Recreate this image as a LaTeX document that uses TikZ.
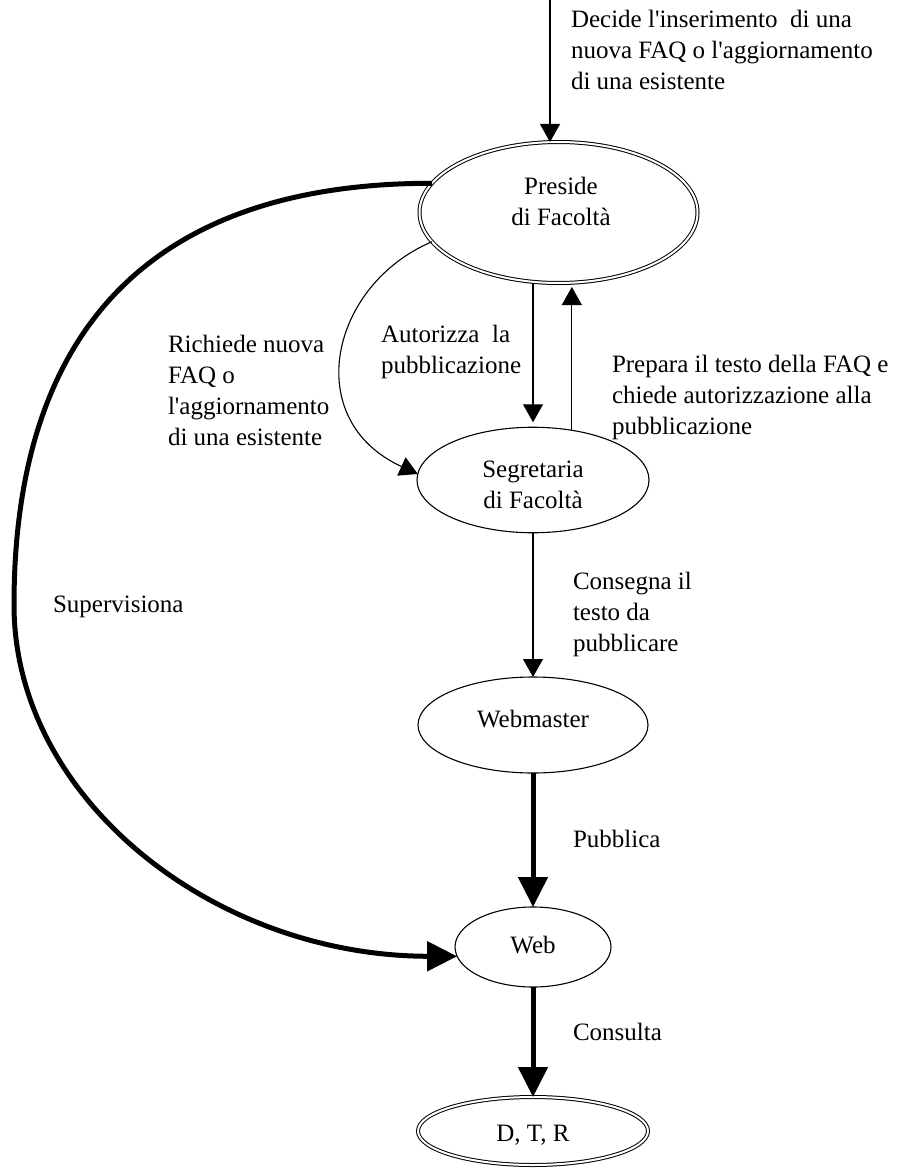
\documentclass[tikz,border=0pt]{standalone}
\usepackage{fontspec}
\setmainfont{Liberation Serif}
\usetikzlibrary{arrows.meta,shapes.geometric}

% left-aligned label lines, first baseline is the node's base
\newcommand\lines[1]{\begin{tabular}[t]{@{}l@{}}#1\end{tabular}}
% centred lines inside an ellipse
\newcommand\clines[1]{\begin{tabular}{@{}c@{}}#1\end{tabular}}
% extra room below (text sits higher) or above (text sits lower)
\newcommand\padbelow[2]{\raisebox{0pt}[\height][\dimexpr\depth+#1\relax]{#2}}
\newcommand\padabove[2]{\raisebox{0pt}[\dimexpr\height+#1\relax][\depth]{#2}}
\newcommand\ap{\textquotesingle}

\begin{document}
\begin{tikzpicture}[x=1pt,y=-1pt,
  every node/.style={font=\fontsize{25}{31}\selectfont, inner sep=0pt, outer sep=0pt},
  agent/.style={ellipse, draw, line width=1.1pt},
  actor/.style={ellipse, draw, line width=1pt, double, double distance=2pt},
  lbl/.style={anchor=base west},
  flow/.style={line width=1.1pt, -{Triangle[length=18pt,width=20pt]}},
  heavy/.style={line width=5pt, -{Triangle[length=30pt,width=29pt]}},
]
\useasboundingbox (0,0) rectangle (906,1169);

% actors
\node[actor, minimum width=278pt, minimum height=141pt] (pres) at (558.5,212.5)
  {\hspace*{5pt}\padbelow{16.4pt}{\clines{Preside\\di Facoltà}}};
\node[agent, minimum width=232pt, minimum height=104pt] (segr) at (533,480)
  {\padabove{12.6pt}{\clines{Segretaria\\di Facoltà}}};
\node[agent, minimum width=230pt, minimum height=96pt] (webm) at (533,725)
  {\padbelow{8.4pt}{\clines{Webmaster}}};
\node[agent, minimum width=156pt, minimum height=80pt] (web) at (533,947)
  {\clines{Web}};
\node[actor, minimum width=230pt, minimum height=68pt] (dtr) at (533,1131)
  {\padabove{9pt}{\clines{D, T, R}}};

% incoming request
\coordinate (src) at (550,0);
\draw[flow] (src) -- (src |- pres.north);
\node[lbl] (decide) at (571,28)
  {\lines{Decide l\ap inserimento\ \ di una\\nuova FAQ o l\ap aggiornamento\\di una esistente}};

% preside <-> segreteria
\draw[flow, shorten >=5pt] (pres.south -| segr.north) -- (segr.north);
\node[lbl] (autor) at (381,342) {\lines{Autorizza\ \ la\\pubblicazione}};
\draw[flow, shorten >=4pt] (segr.52) -- (segr.52 |- pres.south);
\node[lbl] (prep) at (612,372)
  {\lines{Prepara il testo della FAQ e\\chiede autorizzazione alla\\pubblicazione}};
\draw[flow] (pres.193) .. controls (330,285) and (300,420) .. (segr.177);
\node[lbl] (rich) at (168,352)
  {\lines{Richiede nuova\\FAQ o\\l\ap aggiornamento\\di una esistente}};

% segreteria -> webmaster
\draw[flow] (segr.south) -- (webm.north);
\node[lbl] (cons) at (573,589) {\lines{Consegna il\\testo da\\pubblicare}};

% publication chain
\draw[heavy] (webm.south) -- (web.north);
\node[lbl] (pubb) at (573,847) {Pubblica};
\draw[heavy] (web.south) -- (dtr.north);
\node[lbl] (consu) at (573,1040) {Consulta};

% supervision loop
\draw[heavy] (pres.167) .. controls (155.5,183) and (14,326) .. (14,605)
  .. controls (14,798) and (213,956) .. (web.187);
\node[lbl] (sup) at (53,612) {Supervisiona};
\end{tikzpicture}
\end{document}
